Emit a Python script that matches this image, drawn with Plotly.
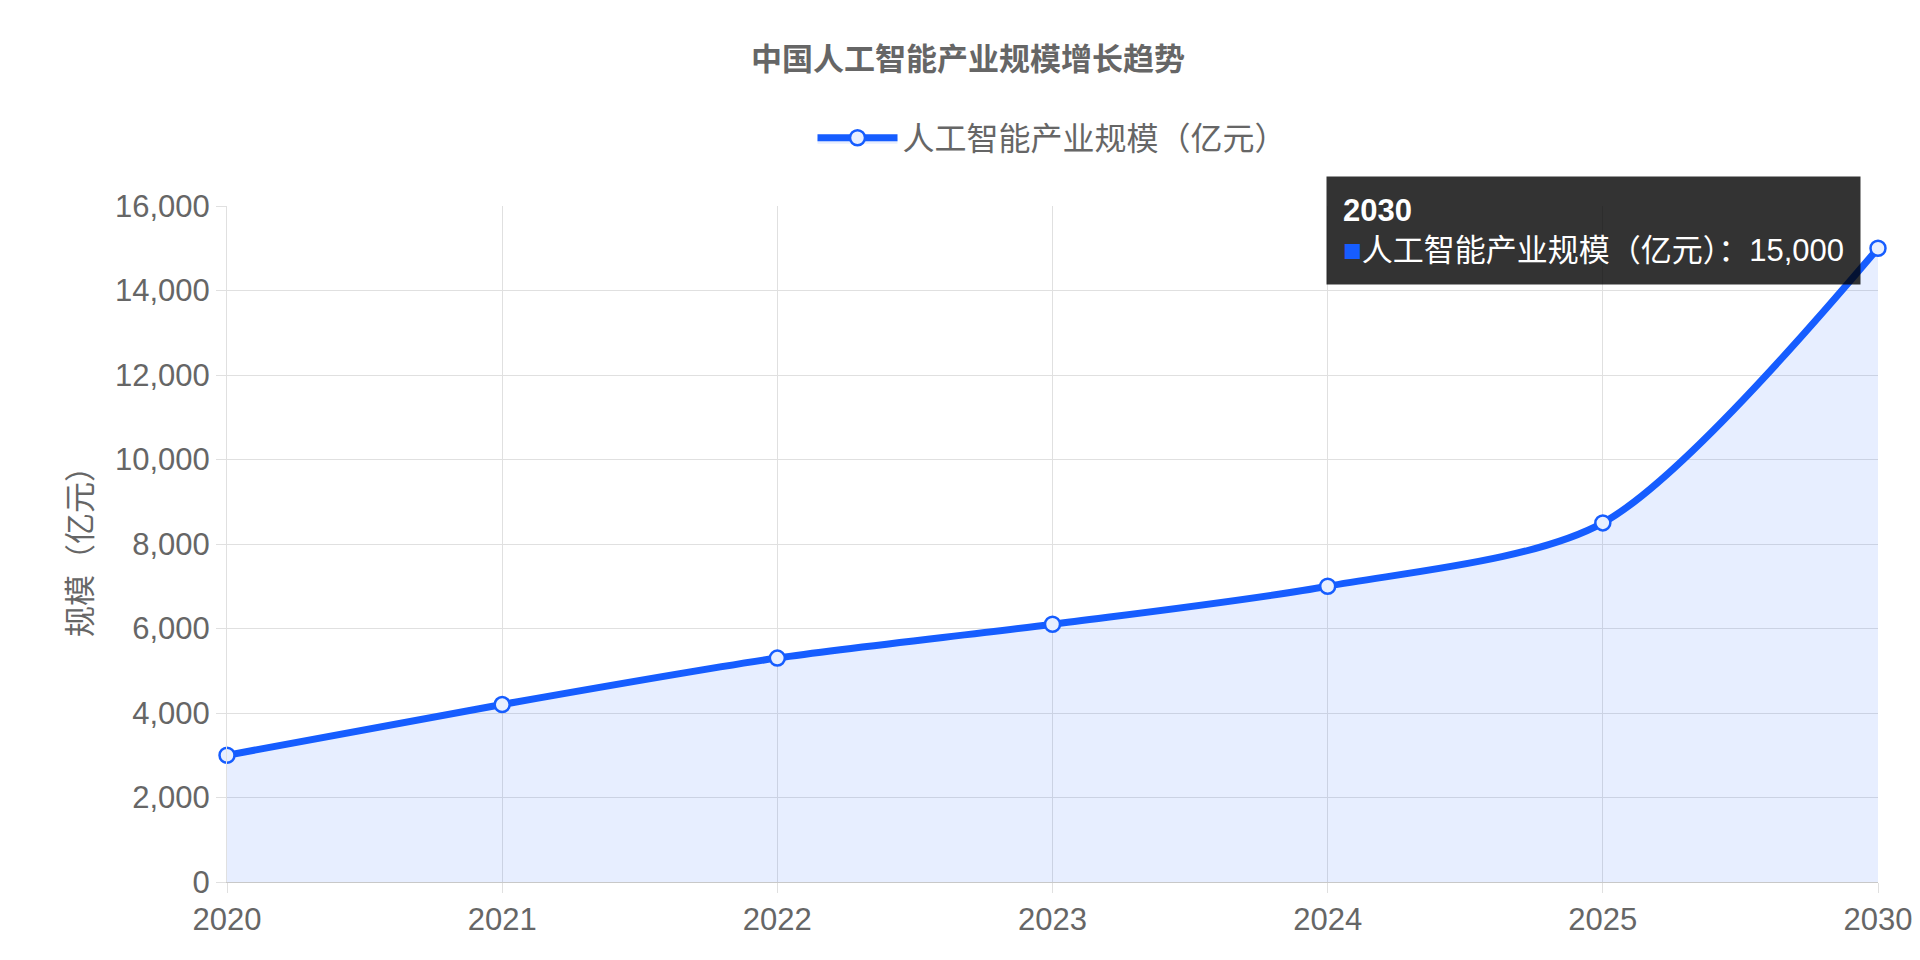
import plotly.graph_objects as go

years = ["2020", "2021", "2022", "2023", "2024", "2025", "2030"]
values = [3000, 4200, 5300, 6100, 7000, 8500, 15000]
series_name = "人工智能产业规模（亿元）"

font = "Liberation Sans, Noto Sans CJK SC, Arial"
blue = "#165DFF"

fig = go.Figure(go.Scatter(
    x=years, y=values, name=series_name, mode="lines+markers", showlegend=True,
    line=dict(color=blue, width=7, shape="spline", smoothing=0.8),
    marker=dict(size=15, color="rgba(232,239,255,1)", line=dict(color=blue, width=2.5)),
    fill="tozeroy", fillcolor="rgba(22,93,255,0.1)", cliponaxis=False,
))

last_label = years[-1]
last_val = values[-1]
fig.add_annotation(
    xref="paper", yref="paper", x=0.99, y=1.045, xanchor="right", yanchor="top",
    align="left", showarrow=False, bgcolor="rgba(0,0,0,0.8)", borderpad=16,
    font=dict(color="white", size=31, family=font),
    text=f"<b>{last_label}</b><br><span style='color:{blue}'>■</span>{series_name}：{last_val:,}",
)

fig.update_layout(
    width=1920, height=960, paper_bgcolor="white", plot_bgcolor="white",
    margin=dict(l=219, r=50, t=198, b=86),
    font=dict(family=font, color="#666", size=30),
    title=dict(text="<b>中国人工智能产业规模增长趋势</b>", x=0.5, xanchor="center", y=0.958,
               font=dict(size=31, color="#666")),
    legend=dict(orientation="h", x=0.5, xanchor="center", y=1.06, yanchor="bottom",
                font=dict(size=32, color="#666"), itemwidth=80),
    xaxis=dict(type="category", range=[0, 6], showgrid=True, gridcolor="#e0e0e0",
               ticks="outside", ticklen=10, tickcolor="#e0e0e0", linecolor="#c8c8c8",
               tickfont=dict(size=31)),
    yaxis=dict(range=[0, 16000], dtick=2000, tickformat=",", showgrid=True, gridcolor="#e0e0e0",
               ticks="outside", ticklen=10, tickcolor="#e0e0e0", linecolor="#e0e0e0",
               zeroline=False, title=dict(text="规模（亿元）", font=dict(size=31), standoff=14),
               tickfont=dict(size=31)),
)
fig.write_html("out.html")
